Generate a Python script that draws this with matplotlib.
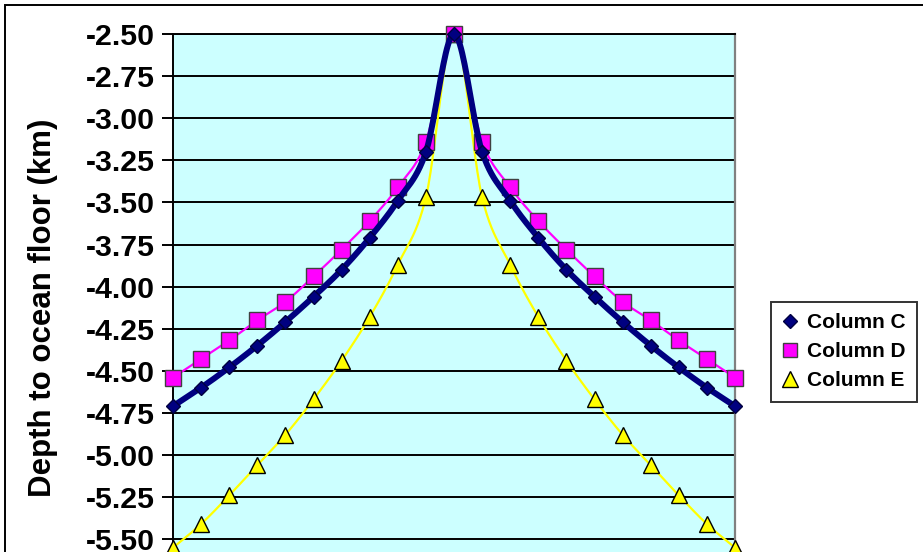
import numpy as np
import matplotlib
matplotlib.use("Agg")
import matplotlib.pyplot as plt
from matplotlib.lines import Line2D
from matplotlib.patches import Rectangle

plt.rcParams['font.family'] = ['Liberation Sans', 'DejaVu Sans']
plt.rcParams['font.weight'] = 'bold'

# Distance steps either side of the ridge axis
positions = list(range(-10, 11))

# Depth profiles away from the ridge crest (km), index 0 = crest, 10 = far flank
half_c = [-2.50, -3.20, -3.49, -3.71, -3.90, -4.06, -4.21, -4.35, -4.48, -4.60, -4.71]
half_d = [-2.50, -3.14, -3.41, -3.61, -3.78, -3.94, -4.09, -4.20, -4.32, -4.43, -4.54]
half_e = [-2.50, -3.47, -3.87, -4.18, -4.44, -4.67, -4.88, -5.06, -5.24, -5.41, -5.55]

series_names = ["Column C", "Column D", "Column E"]
y_ticks = [-2.50, -2.75, -3.00, -3.25, -3.50, -3.75, -4.00, -4.25,
           -4.50, -4.75, -5.00, -5.25, -5.50]
y_label = "Depth to ocean floor (km)"


def mirror(half):
    return half[:0:-1] + half


col_c = mirror(half_c)
col_d = mirror(half_d)
col_e = mirror(half_e)


def smooth_path(xs, ys, n=24):
    """Bezier smoothing through every point (control points at 1/6 of neighbour chord)."""
    xs = np.asarray(xs, float)
    ys = np.asarray(ys, float)
    px = np.concatenate([[xs[0]], xs, [xs[-1]]])
    py = np.concatenate([[ys[0]], ys, [ys[-1]]])
    out_x, out_y = [], []
    t = np.linspace(0, 1, n, endpoint=False)
    for i in range(1, len(px) - 2):
        p0 = np.array([px[i], py[i]])
        p3 = np.array([px[i + 1], py[i + 1]])
        c1 = p0 + (np.array([px[i + 1], py[i + 1]]) - np.array([px[i - 1], py[i - 1]])) / 6
        c2 = p3 - (np.array([px[i + 2], py[i + 2]]) - np.array([px[i], py[i]])) / 6
        b = ((1 - t) ** 3)[:, None] * p0 + (3 * (1 - t) ** 2 * t)[:, None] * c1 \
            + (3 * (1 - t) * t ** 2)[:, None] * c2 + (t ** 3)[:, None] * p3
        out_x.extend(b[:, 0])
        out_y.extend(b[:, 1])
    out_x.append(xs[-1])
    out_y.append(ys[-1])
    return np.array(out_x), np.array(out_y)


W, H = 923, 552
fig = plt.figure(figsize=(W / 100, H / 100), dpi=100)
fig.patch.set_facecolor('white')

# Chart border (continues past the right and bottom edges)
fig.patches.append(Rectangle((5 / W, -0.5), 2.0, 1.5 - 5 / H, transform=fig.transFigure,
                             fill=False, edgecolor='black', linewidth=1.4))

ax_top_px = 34
px_per_unit = 168.4
ymin, ymax = -5.75, -2.50
ax_h_px = (ymax - ymin) * px_per_unit
ax = fig.add_axes([173 / W, (H - ax_top_px - ax_h_px) / H, 562 / W, ax_h_px / H])
ax.set_facecolor('#CCFFFF')
ax.set_xlim(-10, 10)
ax.set_ylim(ymin, ymax)

ax.set_yticks(y_ticks)
ax.set_yticklabels([f"{v:.2f}" for v in y_ticks], fontsize=21.8, fontweight='bold')
ax.set_xticks([])
ax.tick_params(axis='y', direction='out', length=8, width=1.4, pad=5, color='black')
ax.yaxis.grid(True, color='black', linewidth=1.4)
ax.set_axisbelow(True)

for side in ('left', 'top'):
    ax.spines[side].set_color('black')
    ax.spines[side].set_linewidth(1.4)
ax.spines['right'].set_color('#808080')
ax.spines['right'].set_linewidth(1.6)
ax.spines['bottom'].set_visible(False)

ax.set_ylabel(y_label, fontsize=22.5, fontweight='bold')
ax.yaxis.set_label_coords(-0.2046, 0.5)

styles = [
    dict(data=col_e, color='#FFFF00', lw=1.6, marker='^', ms=11.5, mfc='#FFFF00', mec='black', z=3),
    dict(data=col_d, color='#FF00FF', lw=1.6, marker='s', ms=11.0, mfc='#FF00FF', mec='#404040', z=4),
    dict(data=col_c, color='#000080', lw=4.3, marker='D', ms=7.6, mfc='#000080', mec='#000040', z=5),
]
for s in styles:
    sx, sy = smooth_path(positions, s['data'])
    ax.plot(sx, sy, color=s['color'], lw=s['lw'], zorder=s['z'], clip_on=False,
            solid_capstyle='round')
    ax.plot(positions, s['data'], linestyle='none', marker=s['marker'], ms=s['ms'],
            mfc=s['mfc'], mec=s['mec'], mew=1.0, zorder=s['z'] + 0.5, clip_on=False)

handles = [
    Line2D([], [], linestyle='none', marker='D', ms=7.6, mfc='#000080', mec='#000040', mew=1.0),
    Line2D([], [], linestyle='none', marker='s', ms=10.5, mfc='#FF00FF', mec='#404040', mew=1.0),
    Line2D([], [], linestyle='none', marker='^', ms=11, mfc='#FFFF00', mec='black', mew=1.0),
]
leg = fig.legend(handles, series_names, loc='upper left',
                 bbox_to_anchor=(771 / W, 1 - 302 / H), bbox_transform=fig.transFigure,
                 borderaxespad=0, fancybox=False, frameon=True,
                 prop={'size': 15, 'weight': 'bold'},
                 handlelength=0.74, handletextpad=0.42, labelspacing=0.48,
                 borderpad=0.55)
leg.get_frame().set_edgecolor('black')
leg.get_frame().set_linewidth(1.4)

fig.savefig('out.png', dpi=100)
